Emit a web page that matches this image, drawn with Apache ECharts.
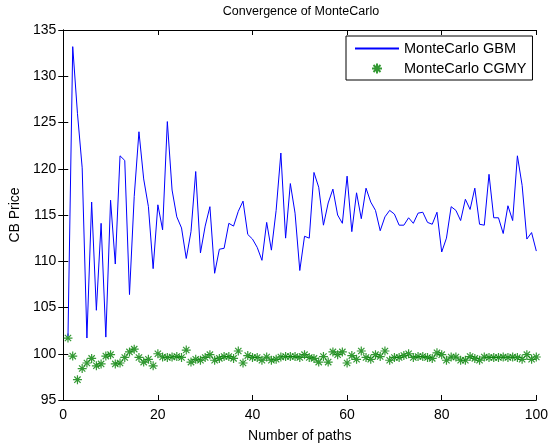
<!DOCTYPE html>
<html>
<head>
<meta charset="utf-8">
<script src="https://cdn.jsdelivr.net/npm/echarts@6/dist/echarts.min.js"></script>
<style>html,body{margin:0;padding:0;background:#fff;}#c{width:551px;height:448px;}</style>
</head>
<body>
<div id="c"></div>
<script>
var paths = [];
for (var i = 1; i <= 100; i++) paths.push(i);

var gbm = [101.9,133.2,126.0,120.1,101.7,116.4,104.7,114.1,101.8,116.6,
109.7,121.4,120.9,106.4,117.0,124.0,118.9,115.9,109.2,116.1,
113.4,125.1,117.7,114.8,113.6,110.3,113.2,119.7,110.9,113.8,
115.9,108.7,111.3,111.4,114.1,113.8,115.4,116.5,112.9,112.4,
111.5,110.1,114.2,111.2,115.5,121.7,112.5,118.4,115.2,109.0,
112.7,112.5,119.6,118.0,113.9,116.3,117.8,115.0,114.1,119.2,
113.2,117.4,114.6,117.9,116.4,115.5,113.3,114.8,115.5,115.1,
113.9,113.9,114.7,114.1,115.2,115.3,114.2,114.0,115.3,111.0,
112.5,115.9,115.5,114.4,116.7,115.6,117.9,114.0,113.9,119.4,
114.7,114.7,113.0,116.0,114.4,121.4,118.2,112.4,113.1,111.1];

var cgmy = [101.7,99.75,97.2,98.4,99.0,99.5,98.7,98.9,99.75,99.9,
98.9,99.0,99.6,100.2,100.5,99.6,99.1,99.4,98.7,100.0,
99.65,99.6,99.65,99.7,99.6,100.4,99.1,99.4,99.3,99.6,
99.9,99.3,99.5,99.7,99.7,99.5,100.3,99.0,99.8,99.6,
99.6,99.3,99.65,99.3,99.4,99.65,99.7,99.7,99.7,99.6,
99.9,99.6,99.5,99.1,99.7,99.1,100.2,99.9,100.2,99.0,
99.8,99.4,100.3,99.6,99.4,99.9,99.7,100.3,99.3,99.6,
99.6,99.8,100.0,99.6,99.7,99.7,99.6,99.5,100.1,99.9,
99.3,99.65,99.65,99.3,99.3,99.7,99.5,99.3,99.65,99.6,
99.6,99.6,99.65,99.6,99.65,99.6,99.4,99.9,99.4,99.65];

var seriesNames = ['MonteCarlo GBM', 'MonteCarlo CGMY'];
var titleText = 'Convergence of MonteCarlo';
var xName = 'Number of paths';
var yName = 'CB Price';

var FONT = 'Liberation Sans, Arial, Helvetica, sans-serif';
var star = 'path://M0,-10L0,10M-10,0L10,0M-7,-7L7,7M-7,7L7,-7';

function pairs(vals) { return vals.map(function (v, i) { return [paths[i], v]; }); }

var axisCommon = {
  axisLine: { show: true, lineStyle: { color: '#000', width: 1 } },
  axisTick: { show: true, inside: true, length: 5, lineStyle: { color: '#000', width: 1 } },
  splitLine: { show: false }
};

var chart = echarts.init(document.getElementById('c'), null, { renderer: 'canvas' });
chart.setOption({
  backgroundColor: '#fff',
  animation: false,
  textStyle: { fontFamily: FONT },
  title: {
    text: titleText, left: 301, top: 5, textAlign: 'center', padding: 0,
    textStyle: { fontSize: 12.5, fontWeight: 'normal', color: '#000', fontFamily: FONT }
  },
  legend: {
    orient: 'vertical', left: 346, top: 36,
    padding: [5, 6, 4, 8], itemGap: 5, itemWidth: 44, itemHeight: 10,
    borderColor: '#000', borderWidth: 1, borderRadius: 0, backgroundColor: '#fff',
    textStyle: { fontSize: 14.5, color: '#000', fontFamily: FONT },
    data: [
      { name: seriesNames[0], itemStyle: { opacity: 0 } },
      { name: seriesNames[1] }
    ]
  },
  grid: { left: 60, top: 30, width: 480, height: 377, containLabel: false },
  xAxis: [
    Object.assign({}, axisCommon, {
      type: 'value', min: 0, max: 100, interval: 20, position: 'bottom',
      name: xName, nameLocation: 'middle', nameGap: 29,
      nameTextStyle: { fontSize: 14, color: '#000', fontFamily: FONT },
      axisLabel: { show: true, margin: 8, fontSize: 14, color: '#000', fontFamily: FONT }
    }),
    Object.assign({}, axisCommon, {
      type: 'value', min: 0, max: 100, interval: 20, position: 'top',
      axisLabel: { show: false }
    })
  ],
  yAxis: [
    Object.assign({}, axisCommon, {
      type: 'value', min: 95, max: 135, interval: 5, position: 'left',
      name: yName, nameLocation: 'middle', nameGap: 38, nameRotate: 90,
      nameTextStyle: { fontSize: 14, color: '#000', fontFamily: FONT },
      axisLabel: { show: true, margin: 7, fontSize: 14, color: '#000', fontFamily: FONT }
    }),
    Object.assign({}, axisCommon, {
      type: 'value', min: 95, max: 135, interval: 5, position: 'right',
      axisLabel: { show: false }
    })
  ],
  series: [
    {
      name: seriesNames[0], type: 'line', xAxisIndex: 0, yAxisIndex: 0,
      data: pairs(gbm), symbol: 'none', showSymbol: false,
      lineStyle: { color: '#0000ff', width: 1 }, itemStyle: { color: '#0000ff' }
    },
    {
      name: seriesNames[1], type: 'scatter', xAxisIndex: 0, yAxisIndex: 0,
      data: pairs(cgmy), symbol: star, symbolSize: 9, symbolKeepAspect: true,
      itemStyle: { color: 'rgba(0,0,0,0)', borderColor: '#008000', borderWidth: 1.2 }
    }
  ]
});
</script>
</body>
</html>
